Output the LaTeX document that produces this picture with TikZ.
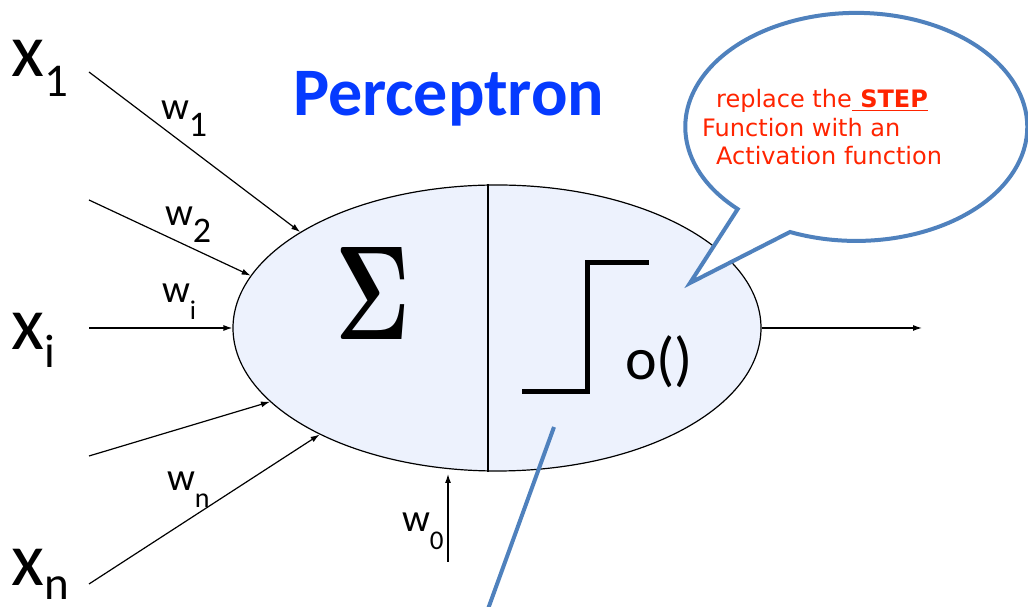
\documentclass[tikz,border=0pt]{standalone}
\usepackage{graphicx}
\usepackage[no-math]{fontspec}
\setmainfont{Carlito}
\newfontfamily\djv{DejaVu Sans}
\usetikzlibrary{arrows.meta,shapes.geometric}
\definecolor{cellfill}{RGB}{237,242,253}
\definecolor{titleblue}{RGB}{5,58,255}
\definecolor{calloutblue}{RGB}{79,129,189}
\definecolor{calloutred}{RGB}{255,36,0}
\newcommand{\bigx}[2]{{\fontsize{76}{76}\selectfont x}\raisebox{#1}{\fontsize{47}{47}\selectfont #2}}
\newcommand{\smw}[3]{{\fontsize{39}{39}\selectfont w}\raisebox{#1}{\fontsize{#3}{#3}\selectfont #2}}
\begin{document}
\begin{tikzpicture}[x=1pt,y=1pt,
  arr/.style={-{Latex[length=9pt,width=6pt]}, line width=1.2pt, black},
  lbl/.style={anchor=base west, inner sep=0pt, outer sep=0pt},
  ctext/.style={anchor=base west, inner sep=0pt, text=calloutred, font=\djv\fontsize{24}{24}\selectfont}]
\useasboundingbox (0,0) rectangle (1028,607);

% neuron
\node[ellipse, draw, line width=1.2pt, fill=cellfill, minimum width=528pt, minimum height=286pt, inner sep=0pt] (neuron) at (497,279) {};
\draw[line width=1.2pt] ([xshift=-9pt]neuron.north) -- ([xshift=-9pt]neuron.south);

% sigma
\node[anchor=south west, inner sep=0pt] (sigma) at (335,267) {\resizebox{75pt}{92pt}{$\mathbf{\Sigma}$}};

% step function
\coordinate (s1) at (522,215);
\coordinate (s2) at (587,215);
\coordinate (s3) at (587,344);
\coordinate (s4) at (649,344);
\draw[line width=5pt, miter limit=10] (s1) -- (s2) -- (s3) -- (s4);
\node[lbl, font=\fontsize{60}{60}\selectfont] (ofun) at (625,227) {o()};

% title
\node[lbl, text=titleblue, font=\bfseries\fontsize{68}{68}\selectfont] (title) at (293,491) {Perceptron};

% inputs
\coordinate (in1) at (89,535);
\coordinate (in2) at (89,407);
\coordinate (in3) at (89,279);
\coordinate (in4) at (89,151);
\coordinate (in5) at (89,23);
\draw[arr] (in1) -- (neuron.154.2);
\draw[arr] (in2) -- (neuron.168.9);
\draw[arr] (in3) -- (neuron.180);
\draw[arr] (in4) -- (neuron.198.8);
\draw[arr] (in5) -- (neuron.211.3);
\coordinate (b0) at (448,45);
\coordinate (b1) at (448,133);
\draw[arr] (b0) -- (b1);
\coordinate (out) at (922,279);
\draw[arr] (neuron.east) -- (out);

% input labels
\node[lbl] (x1) at (12,530) {\bigx{-20pt}{1}};
\node[lbl] (xi) at (12,257) {\bigx{-18pt}{i}};
\node[lbl] (xn) at (12,21) {\bigx{-14pt}{n}};

% weight labels
\node[lbl] (w1) at (161,487) {\smw{-17pt}{1}{36}};
\node[lbl] (w2) at (165,381) {\smw{-17pt}{2}{36}};
\node[lbl] (wi) at (162,304) {\smw{-17pt}{i}{27}};
\node[lbl] (wn) at (167,116) {\smw{-17pt}{n}{28}};
\node[lbl] (w0) at (402,75) {\smw{-18pt}{0}{27}};

% callout
\draw[calloutblue, line width=4pt, fill=white, line join=miter]
  (790,375) arc[start angle=247.2, end angle=586.1, x radius=171pt, y radius=114pt]
  -- (690,324) -- cycle;
\node[ctext] (c1) at (716,499) {replace the\underline{\textbf{ STEP}}};
\node[ctext] (c2) at (702,470) {Function with an};
\node[ctext] (c3) at (716,442) {Activation function};

% second callout tail
\coordinate (t1) at (554,180);
\coordinate (t2) at (488,-2);
\draw[calloutblue, line width=4pt] (t1) -- (t2);
\end{tikzpicture}
\end{document}
